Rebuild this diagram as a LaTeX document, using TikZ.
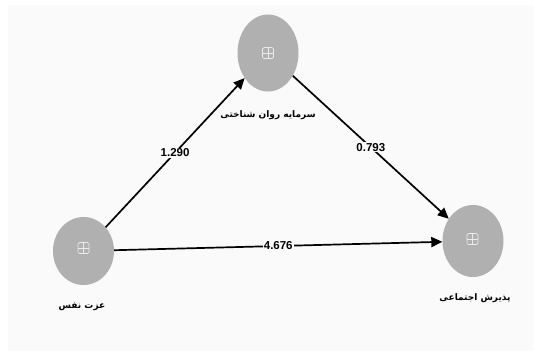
\documentclass[tikz,border=0pt]{standalone}
\usepackage{fontspec}
\setmainfont{Liberation Sans}
\newfontfamily\arabicfont[Script=Arabic]{DejaVu Sans}
\TeXXeTstate=1
\usetikzlibrary{shapes.geometric,arrows.meta}
\definecolor{bgcol}{RGB}{250,250,250}
\definecolor{nodegray}{RGB}{176,176,176}
\definecolor{iconcol}{RGB}{235,235,235}
\tikzset{
  latent/.style={ellipse, fill=nodegray, inner sep=0pt, minimum width=61pt},
  iconbox/.style={draw=iconcol, line width=0.7pt, rounded corners=1.5pt, minimum size=11pt, inner sep=0pt,
    path picture={\draw[iconcol, line width=0.7pt] (path picture bounding box.north) -- (path picture bounding box.south)
       (path picture bounding box.west) -- (path picture bounding box.east);}},
  path/.style={line width=1.7pt, -{Triangle[length=11pt,width=10pt]}},
  coef/.style={fill=bgcol, inner sep=1pt, font=\bfseries\fontsize{11.5pt}{13pt}\selectfont},
  vlabel/.style={font=\arabicfont\bfseries\fontsize{9pt}{11pt}\selectfont, inner sep=0pt}
}
\begin{document}
\begin{tikzpicture}[x=1pt,y=-1pt]
\useasboundingbox (0,0) rectangle (537,351);
\fill[white] (0,0) rectangle (537,351);
\fill[bgcol] (8,5) rectangle (533,351);
\node[latent, minimum height=77pt] (T) at (268,53) {};
\node[latent, minimum height=68pt] (L) at (83.5,251) {};
\node[latent, minimum height=72pt] (R) at (473,241) {};
\node[iconbox] (Ti) at (268,53) {};
\node[iconbox] (Li) at (83.5,248) {};
\node[iconbox] (Ri) at (472.5,239) {};
\node[vlabel] (Tl) at (268,115) {\beginR سرمایه روان شناختی\endR};
\node[vlabel] (Ll) at (82,307) {\beginR عزت نفس\endR};
\node[vlabel] (Rl) at (475,298) {\beginR پذیرش اجتماعی\endR};
\draw[path] (L) -- node[coef] {1.290} (T);
\draw[path] (T) -- node[coef] {0.793} (R);
\draw[path] (L) -- node[coef] {4.676} (R);
\end{tikzpicture}
\end{document}
